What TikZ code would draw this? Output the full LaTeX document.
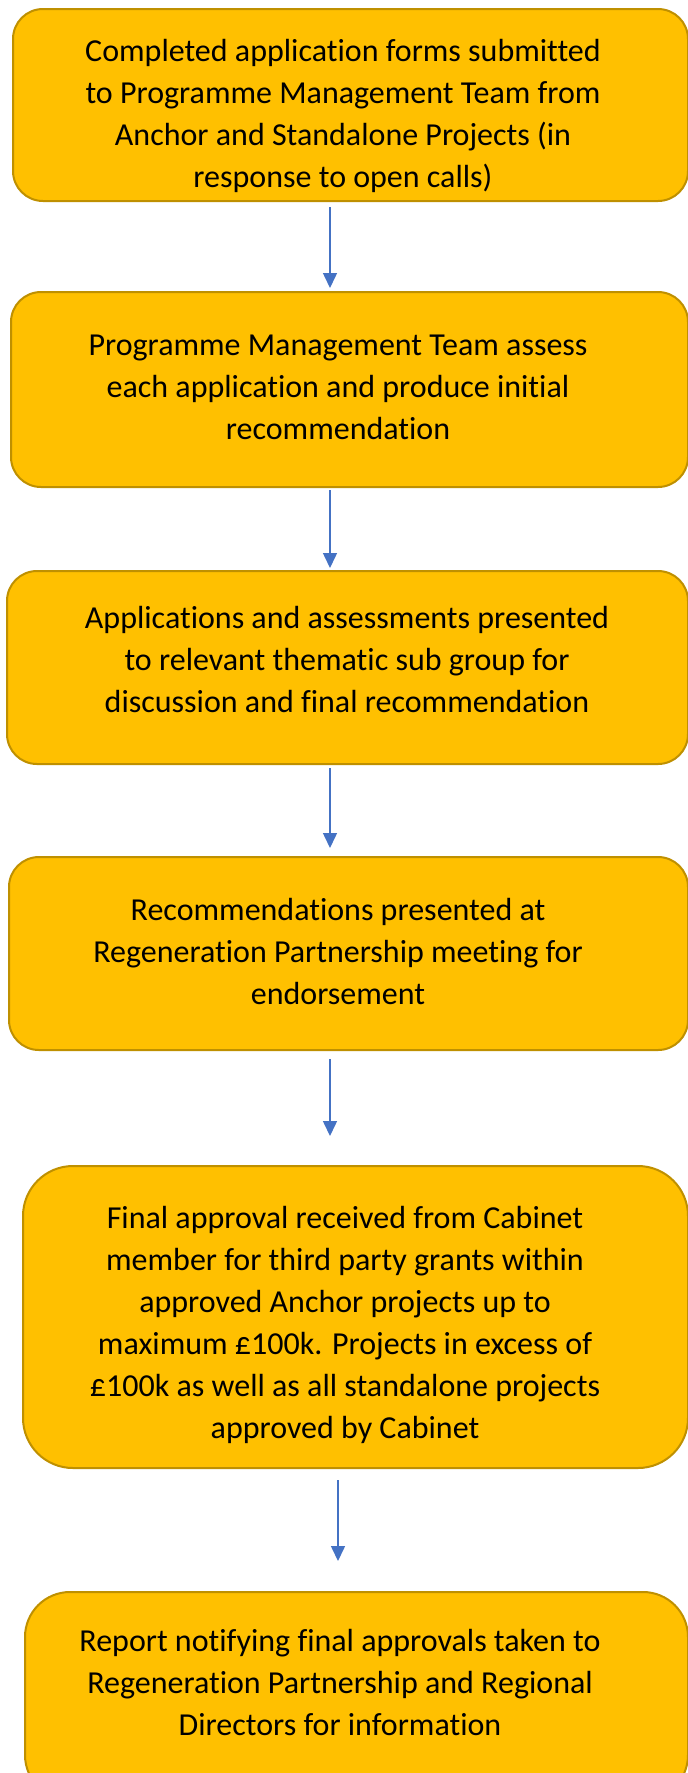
\documentclass[tikz,border=0pt]{standalone}
\usepackage{fontspec}
\setmainfont[Ligatures=NoCommon]{Carlito}
\usetikzlibrary{arrows.meta}
\definecolor{boxfill}{HTML}{FFC000}
\definecolor{boxline}{HTML}{BF9000}
\definecolor{arrowblue}{HTML}{4472C4}
\begin{document}
\begin{tikzpicture}[x=1pt,y=-1pt,
  stepbox/.style={draw=boxline, fill=boxfill, line width=2pt, rounded corners=30pt, inner sep=0pt, anchor=center},
  steptext/.style={align=center, inner sep=0pt, font=\fontsize{32}{42}\selectfont, text=black},
  arr/.style={draw=arrowblue, line width=1.5pt, -{Triangle[width=14pt,length=15pt]}}]
\useasboundingbox (0,0) rectangle (688,1773);
\clip (0,0) rectangle (688,1773);
\fill[white] (0,0) rectangle (688,1773);
% boxes
\node[stepbox, minimum width=675pt, minimum height=192pt] (b1) at (350.5,105) {};
\node[stepbox, minimum width=677pt, minimum height=195pt] (b2) at (349.5,389.5) {};
\node[stepbox, minimum width=681pt, minimum height=193pt] (b3) at (347.5,667.5) {};
\node[stepbox, minimum width=679pt, minimum height=193pt] (b4) at (348.5,953.5) {};
\node[stepbox, rounded corners=50pt, minimum width=665pt, minimum height=302pt] (b5) at (355.5,1317) {};
\node[stepbox, rounded corners=45pt, minimum width=663pt, minimum height=208pt] (b6) at (356.5,1696) {};
% texts
\node[steptext] (t1) at (343,115.5) {Completed application forms submitted\\to Programme Management Team from\\Anchor and Standalone Projects (in\\response to open calls)};
\node[steptext] (t2) at (338,387.5) {Programme Management Team assess\\each application and produce initial\\recommendation};
\node[steptext] (t3) at (347,659.5) {Applications and assessments presented\\to relevant thematic sub group for\\discussion and final recommendation};
\node[steptext] (t4) at (338,951) {Recommendations presented at\\Regeneration Partnership meeting for\\endorsement};
\node[steptext] (t5) at (345,1324.5) {Final approval received from Cabinet\\member for third party grants within\\approved Anchor projects up to\\maximum £100k. Projects in excess of\\£100k as well as all standalone projects\\approved by Cabinet};
\node[steptext] (t6) at (340,1682) {Report notifying final approvals taken to\\Regeneration Partnership and Regional\\Directors for information};
% arrow columns
\coordinate (c1) at (330,0);
\coordinate (c2) at (338,0);
\draw[arr, shorten <=5pt, shorten >=3pt] (b1.south -| c1) -- (b2.north -| c1);
\draw[arr, shorten <=2pt, shorten >=2pt] (b2.south -| c1) -- (b3.north -| c1);
\draw[arr, shorten <=3pt, shorten >=8pt] (b3.south -| c1) -- (b4.north -| c1);
\draw[arr, shorten <=8pt, shorten >=29pt] (b4.south -| c1) -- (b5.north -| c1);
\draw[arr, shorten <=11pt, shorten >=30pt] (b5.south -| c2) -- (b6.north -| c2);
\end{tikzpicture}
\end{document}
